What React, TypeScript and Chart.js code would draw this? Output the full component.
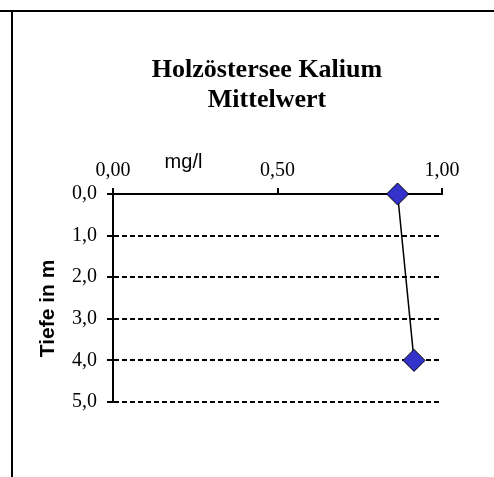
import React, { useEffect, useRef } from "react";
import { Chart, registerables } from "chart.js";

Chart.register(...registerables);

const titleLines = ["Holzöstersee Kalium", "Mittelwert"];
const xAxisTitle = "mg/l";
const yAxisTitle = "Tiefe in m";
const depths = [0, 4];
const kaliumMittelwert = [0.865, 0.915];
const xTickValues = [0, 0.5, 1];
const xTickLabels = ["0,00", "0,50", "1,00"];
const yTickValues = [0, 1, 2, 3, 4, 5];
const yTickLabels = ["0,0", "1,0", "2,0", "3,0", "4,0", "5,0"];

const W = 494;
const H = 477;

const labelFor = (values: number[], labels: string[], v: number) => {
  const i = values.findIndex((x) => Math.abs(x - v) < 1e-9);
  return i >= 0 ? labels[i] : "";
};

const extrasPlugin = {
  id: "extras",
  beforeDraw(chart: any) {
    const ctx = chart.ctx;
    ctx.save();
    ctx.fillStyle = "#000";
    ctx.fillRect(0, 10, W, 2);
    ctx.fillRect(11, 10, 2, H - 10);
    ctx.restore();
  },
  afterDraw(chart: any) {
    const ctx = chart.ctx;
    ctx.save();
    ctx.fillStyle = "#000";
    ctx.textAlign = "center";
    ctx.textBaseline = "alphabetic";
    ctx.font = "bold 26px 'Liberation Serif', 'Times New Roman', serif";
    titleLines.forEach((t, i) => ctx.fillText(t, 267, 77 + i * 30));
    ctx.font = "20px 'Liberation Sans', Arial, sans-serif";
    ctx.fillText(xAxisTitle, 183.5, 168);
    ctx.translate(54, 308.5);
    ctx.rotate(-Math.PI / 2);
    ctx.font = "bold 21px 'Liberation Sans', Arial, sans-serif";
    ctx.fillText(yAxisTitle, 0, 0);
    ctx.restore();
  },
};

export default function App() {
  const ref = useRef<HTMLCanvasElement>(null);
  useEffect(() => {
    if (!ref.current) return;
    const chart = new Chart(ref.current, {
      type: "scatter",
      data: {
        datasets: [
          {
            data: depths.map((d, i) => ({ x: kaliumMittelwert[i], y: d })),
            showLine: true,
            borderColor: "#000",
            borderWidth: 1.5,
            pointStyle: "rectRot",
            pointRadius: 11,
            pointHoverRadius: 11,
            pointBackgroundColor: "#3333CC",
            pointBorderColor: "#000",
            pointBorderWidth: 1,
            clip: false,
          } as any,
        ],
      },
      options: {
        animation: false,
        responsive: false,
        events: [],
        layout: { padding: { left: 60, right: 52, top: 123, bottom: 75 } },
        plugins: {
          legend: { display: false },
          tooltip: { enabled: false },
          title: { display: false },
        },
        scales: {
          x: {
            type: "linear",
            position: "top",
            min: 0,
            max: 1,
            afterFit: (s: any) => {
              s.height = 71;
            },
            ticks: {
              stepSize: 0.5,
              autoSkip: false,
              maxRotation: 0,
              padding: 5,
              color: "#000",
              font: { family: "'Liberation Serif', 'Times New Roman', serif", size: 20 },
              callback: (v: any) => labelFor(xTickValues, xTickLabels, Number(v)),
            },
            grid: {
              drawOnChartArea: false,
              drawTicks: true,
              tickLength: 6,
              color: "#000",
              lineWidth: 2,
            },
            border: { display: true, color: "#000", width: 2 },
          },
          y: {
            type: "linear",
            position: "left",
            reverse: true,
            min: 0,
            max: 5,
            afterFit: (s: any) => {
              s.width = 53;
            },
            ticks: {
              stepSize: 1,
              autoSkip: false,
              padding: 10,
              color: "#000",
              font: { family: "'Liberation Serif', 'Times New Roman', serif", size: 20 },
              callback: (v: any) => labelFor(yTickValues, yTickLabels, Number(v)),
            },
            grid: {
              drawTicks: true,
              tickLength: 6,
              color: "#000",
              lineWidth: 2,
              tickBorderDash: [],
            } as any,
            border: {
              display: true,
              color: "#000",
              width: 2,
              dash: (c: any) => (c.tick && c.tick.value === 0 ? [] : [5, 3]),
            } as any,
          },
        },
      },
      plugins: [extrasPlugin],
    });
    return () => chart.destroy();
  }, []);
  return (
    <div style={{ position: "absolute", left: 0, top: 0, width: W, height: H, background: "#fff" }}>
      <canvas ref={ref} width={W} height={H} style={{ display: "block" }} />
    </div>
  );
}
